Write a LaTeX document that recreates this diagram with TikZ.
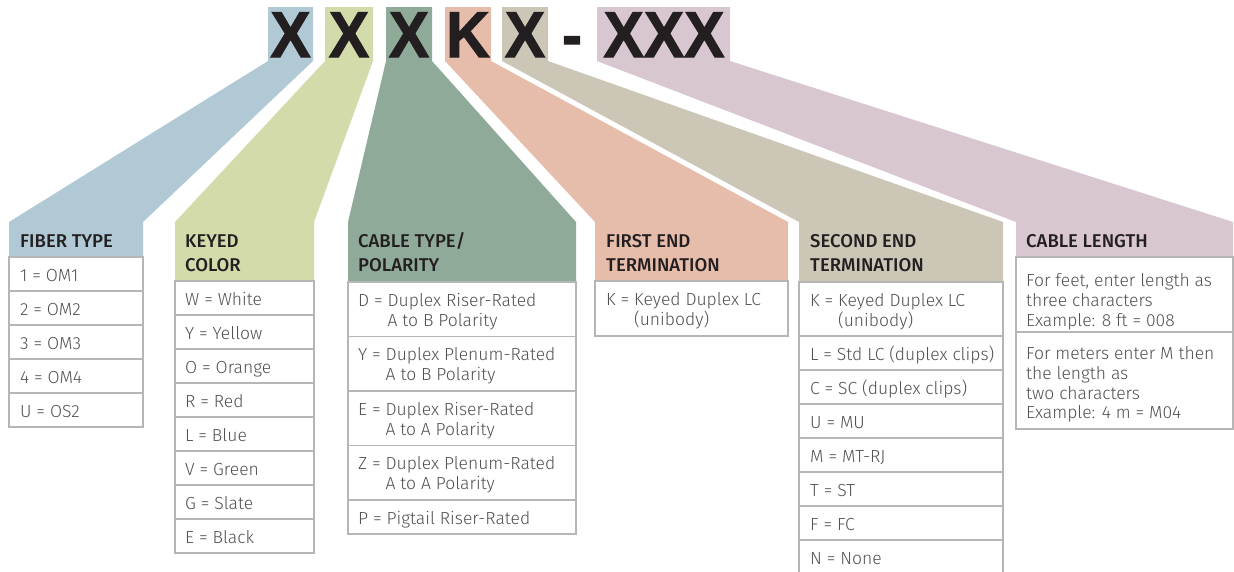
\documentclass[tikz,border=0pt]{standalone}
\usepackage{fontspec}
\usepackage{graphicx}
\setmainfont{Fira Sans Light}
\newfontfamily\hfont{Fira Sans Medium}
\newfontfamily\bigfont{Liberation Sans}[BoldFeatures={FakeBold=1.6}]
\definecolor{cblue}{RGB}{176,201,213}
\definecolor{cgreen}{RGB}{211,219,171}
\definecolor{csage}{RGB}{143,170,152}
\definecolor{csalmon}{RGB}{230,189,171}
\definecolor{cbeige}{RGB}{203,198,182}
\definecolor{cmauve}{RGB}{216,198,209}
\definecolor{tgray}{RGB}{80,81,83}
\definecolor{lgray}{RGB}{182,182,182}
\definecolor{hdark}{RGB}{35,31,32}
\tikzset{
  cell/.style={draw=lgray, line width=1.1pt, fill=white},
  body/.style={anchor=base west, inner sep=0pt, text=tgray, font=\fontsize{17.5}{20}\selectfont},
  head/.style={anchor=base west, inner sep=0pt, text=hdark, font=\hfont\fontsize{18.5}{24}\selectfont},
  big/.style={anchor=base, inner sep=0pt, text=hdark, font=\bigfont\bfseries\fontsize{65}{65}\selectfont},
}
\newcommand{\bigX}[1]{\scalebox{0.93}[1]{#1}}
\begin{document}
\begin{tikzpicture}[x=1pt,y=-1pt]
\useasboundingbox (0,0) rectangle (1234,571);
% bands
\fill[cblue]   (268,7) -- (313,7) -- (313,61) -- (143,222) -- (143,257) -- (9,257) -- (9,222) -- (268,61) -- cycle;
\fill[cgreen]  (325,7) -- (373,7) -- (373,61) -- (314,222) -- (314,281) -- (175,281) -- (175,222) -- (325,61) -- cycle;
\fill[csage]   (386,7) -- (432,7) -- (432,61) -- (576,222) -- (576,282) -- (348,282) -- (348,222) -- (386,61) -- cycle;
\fill[csalmon] (445,7) -- (491,7) -- (491,61) -- (788,222) -- (788,281) -- (595,281) -- (595,222) -- (445,61) -- cycle;
\fill[cbeige]  (502,7) -- (548,7) -- (548,61) -- (1003,222) -- (1003,282) -- (799,282) -- (799,222) -- (502,61) -- cycle;
\fill[cmauve]  (597,7) -- (730,7) -- (730,61) -- (1233,222) -- (1233,257) -- (1016,257) -- (1016,222) -- (597,61) -- cycle;
% big code letters
\node[big] (L1) at (290.5,57) {\bigX{X}};
\node[big] (L2) at (349,57) {\bigX{X}};
\node[big] (L3) at (409,57) {\bigX{X}};
\node[big] (L4) at (468,57) {\bigX{K}};
\node[big] (L5) at (525,57) {\bigX{X}};
\node[big] (Ld) at (572,57) {\bigX{-}};
\node[big] (L6) at (664,57) {\bigX{XXX}};
% headers
\node[head] (hft) at (20,247) {FIBER TYPE};
\node[head] (hkc) at (185,247) {KEYED};
\node[head] (hkc2) at (185,271) {COLOR};
\node[head] (hct) at (358,247) {CABLE TYPE/};
\node[head] (hct2) at (358,271) {POLARITY};
\node[head] (hfe) at (606,247) {FIRST END};
\node[head] (hfe2) at (606,271) {TERMINATION};
\node[head] (hse) at (810,247) {SECOND END};
\node[head] (hse2) at (810,271) {TERMINATION};
\node[head] (hcl) at (1026,247) {CABLE LENGTH};
% fiber type
\foreach \t [count=\i from 0] in {1 = OM1, 2 = OM2, 3 = OM3, 4 = OM4, U = OS2}{
  \draw[cell] (9,{257+34*\i}) rectangle (143,{291+34*\i});
  \node[body] (ft\i) at (20,{281.5+34*\i}) {\t};
}
% keyed color
\foreach \t [count=\i from 0] in {W = White, Y = Yellow, O = Orange, R = Red, L = Blue, V = Green, G = Slate, E = Black}{
  \draw[cell] (175,{281+34*\i}) rectangle (314,{315+34*\i});
  \node[body] (kc\i) at (185,{305.5+34*\i}) {\t};
}
% cable type
\draw[cell] (348,282) rectangle (576,336.5);
\draw[cell] (348,336.5) rectangle (576,391);
\draw[cell] (348,391) rectangle (576,445.5);
\draw[cell] (348,445.5) rectangle (576,500);
\draw[cell] (348,500) rectangle (576,534);
\node[body] (ct1) at (358,306) {D = Duplex Riser-Rated};
\node[body] (ct1b) at (358,326) {\hphantom{D = }A to B Polarity};
\node[body] (ct2) at (358,360.5) {Y = Duplex Plenum-Rated};
\node[body] (ct2b) at (358,380.5) {\hphantom{Y = }A to B Polarity};
\node[body] (ct3) at (358,415) {E = Duplex Riser-Rated};
\node[body] (ct3b) at (358,435) {\hphantom{E = }A to A Polarity};
\node[body] (ct4) at (358,469.5) {Z = Duplex Plenum-Rated};
\node[body] (ct4b) at (358,489.5) {\hphantom{Z = }A to A Polarity};
\node[body] (ct5) at (358,524.5) {P = Pigtail Riser-Rated};
% first end
\draw[cell] (595,281) rectangle (788,336);
\node[body] (fe1) at (606,305) {K = Keyed Duplex LC};
\node[body] (fe1b) at (606,325) {\hphantom{K = }(unibody)};
% second end
\draw[cell] (799,282) rectangle (1003,336);
\node[body] (se1) at (810,306) {K = Keyed Duplex LC};
\node[body] (se1b) at (810,326) {\hphantom{K = }(unibody)};
\foreach \t [count=\i from 0] in {L = Std LC (duplex clips), C = SC (duplex clips), U = MU, M = MT-RJ, T = ST, F = FC, N = None}{
  \draw[cell] (799,{336+34*\i}) rectangle (1003,{370+34*\i});
  \node[body] (se\i x) at (810,{360.5+34*\i}) {\t};
}
% cable length
\draw[cell] (1016,257) rectangle (1233,332);
\draw[cell] (1016,332) rectangle (1233,429);
\node[body] (cl1) at (1026,286) {For feet, enter length as};
\node[body] (cl1b) at (1026,306) {three characters};
\node[body] (cl1c) at (1026,326) {Example: 8 ft = 008};
\node[body] (cl2) at (1026,359) {For meters enter M then};
\node[body] (cl2b) at (1026,379) {the length as};
\node[body] (cl2c) at (1026,399) {two characters};
\node[body] (cl2d) at (1026,418) {Example: 4 m = M04};
\end{tikzpicture}
\end{document}
